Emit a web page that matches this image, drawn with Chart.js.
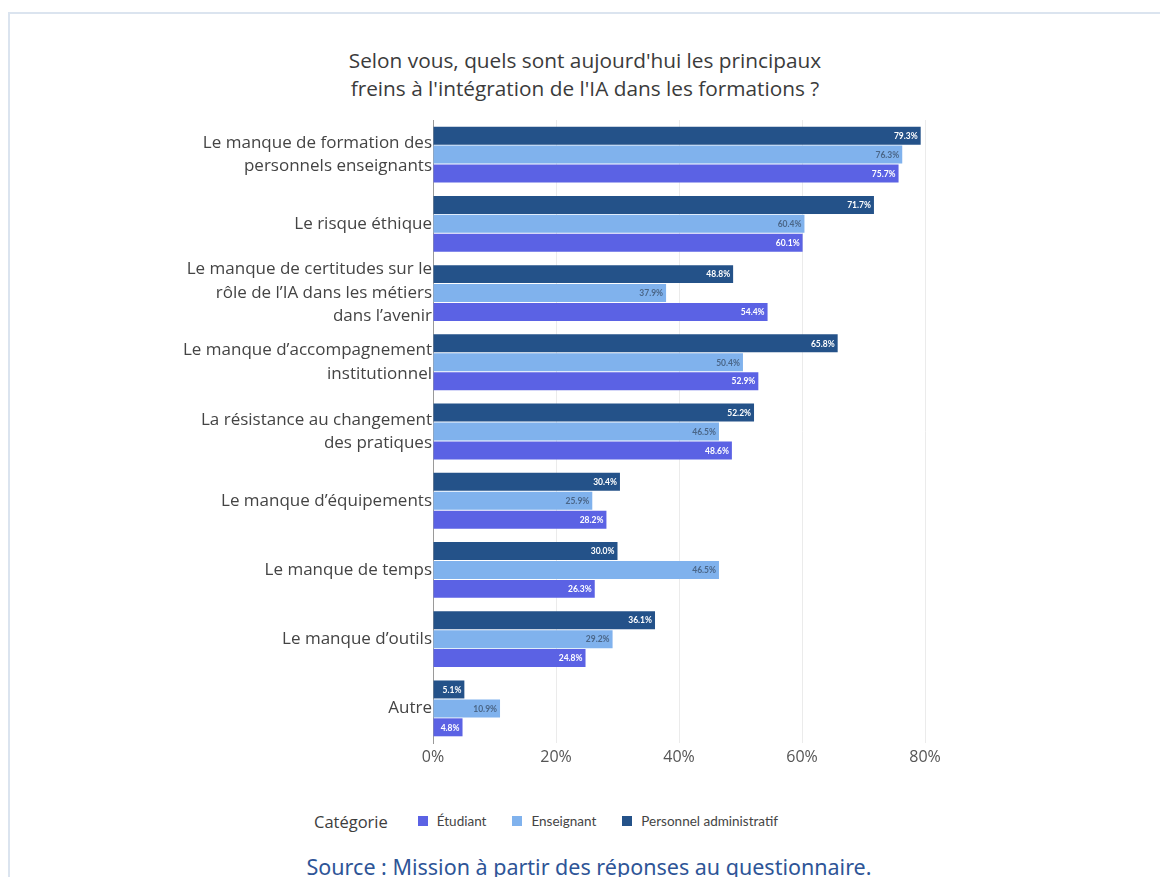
<!DOCTYPE html>
<html lang="fr">
<head>
<meta charset="utf-8">
<title>Freins à l'intégration de l'IA</title>
<script src="https://cdn.jsdelivr.net/npm/chart.js@4.4.1/dist/chart.umd.min.js"></script>
<style>
  html, body { margin: 0; padding: 0; background: #fff; }
  body { width: 1160px; height: 877px; position: relative; overflow: hidden; font-family: "Open Sans", sans-serif; }
  .frame { position: absolute; left: 8px; top: 12px; width: 1300px; height: 1000px;
           border-left: 2px solid #dbe4ef; border-top: 2px solid #dbe4ef; }
  .heading { position: absolute; left: 0; width: 1170px; top: 46px; text-align: center;
             font-size: 20.8px; line-height: 28px; color: #3b3b3b; }
  #wrap { position: absolute; left: 0; top: 0; width: 1160px; height: 770px; }
  .legend { position: absolute; left: 314px; top: 810px; height: 22px; display: flex; align-items: center;
            color: #444; font-family: Lato, sans-serif; font-size: 13.5px; white-space: nowrap; }
  .legend .title { font-family: "Open Sans", sans-serif; font-size: 16.5px; margin-right: 30px; color: #3d3d3d; }
  .legend .sw { width: 10px; height: 10px; margin-right: 9px; display: inline-block; }
  .legend .item { display: flex; align-items: center; margin-right: 26px; }
  .source { position: absolute; left: 0; width: 1178px; top: 852px; text-align: center;
            font-family: "Noto Sans", sans-serif; font-size: 21.5px; color: #2e5597; }
</style>
</head>
<body>
<div class="frame"></div>
<div class="heading">Selon vous, quels sont aujourd'hui les principaux<br>freins à l'intégration de l'IA dans les formations ?</div>
<div id="wrap"><canvas id="chart"></canvas></div>
<div class="legend" id="legend"></div>
<div class="source">Source : Mission à partir des réponses au questionnaire.</div>

<script>
const categories = [
  ["Le manque de formation des", "personnels enseignants"],
  "Le risque éthique",
  ["Le manque de certitudes sur le", "rôle de l’IA dans les métiers", "dans l’avenir"],
  ["Le manque d’accompagnement", "institutionnel"],
  ["La résistance au changement", "des pratiques"],
  "Le manque d’équipements",
  "Le manque de temps",
  "Le manque d’outils",
  "Autre"
];

const etudiant   = [75.7, 60.1, 54.4, 52.9, 48.6, 28.2, 26.3, 24.8, 4.8];
const enseignant = [76.3, 60.4, 37.9, 50.4, 46.5, 25.9, 46.5, 29.2, 10.9];
const personnel  = [79.3, 71.7, 48.8, 65.8, 52.2, 30.4, 30.0, 36.1, 5.1];

const xTicks = [0, 20, 40, 60, 80];

const colors = { etudiant: "#5b62e4", enseignant: "#80b2ed", personnel: "#245289" };

// value labels written inside the end of each bar
const barValueLabels = {
  id: "barValueLabels",
  afterDatasetsDraw(chart) {
    const ctx = chart.ctx;
    ctx.save();
    ctx.font = "bold 8.5px Lato, sans-serif";
    ctx.textAlign = "right";
    ctx.textBaseline = "middle";
    chart.data.datasets.forEach((ds, di) => {
      ctx.fillStyle = ds.labelColor;
      chart.getDatasetMeta(di).data.forEach((bar, i) => {
        ctx.fillText(ds.data[i].toFixed(1) + "%", bar.x - 3, bar.y + 0.5);
      });
    });
    ctx.restore();
  }
};

// top to bottom in each group: personnel, enseignant, étudiant
const datasets = [
  { label: "Personnel administratif", data: personnel, backgroundColor: colors.personnel, labelColor: "#ffffff" },
  { label: "Enseignant", data: enseignant, backgroundColor: colors.enseignant, labelColor: "#4a6688" },
  { label: "Étudiant", data: etudiant, backgroundColor: colors.etudiant, labelColor: "#ffffff" }
];

new Chart(document.getElementById("chart"), {
  type: "bar",
  data: { labels: categories, datasets: datasets },
  options: {
    indexAxis: "y",
    responsive: true,
    maintainAspectRatio: false,
    animation: false,
    categoryPercentage: 0.82,
    barPercentage: 0.95,
    layout: { padding: { left: 0, right: 235, top: 120, bottom: 0 } },
    plugins: {
      legend: { display: false },
      tooltip: { enabled: false }
    },
    scales: {
      x: {
        min: 0,
        max: 80,
        afterBuildTicks: s => { s.ticks = xTicks.map(v => ({ value: v })); },
        afterFit: s => { s.height = 27; },
        grid: {
          drawTicks: false,
          color: c => (c.tick && c.tick.value === 0) ? "rgba(0,0,0,0)" : "#ebebeb"
        },
        border: { display: false },
        ticks: {
          padding: 5,
          color: "#555",
          font: { family: "Open Sans, sans-serif", size: 16 },
          callback: v => v + "%"
        }
      },
      y: {
        afterFit: s => { s.width = 433; },
        grid: { display: false, drawTicks: false },
        border: { display: true, color: "#9a9a9a", width: 1 },
        ticks: {
          autoSkip: false,
          padding: 1,
          color: "#444",
          font: { family: "Open Sans, sans-serif", size: 17, lineHeight: 23.5 / 17 }
        }
      }
    }
  },
  plugins: [barValueLabels]
});

// legend row in the order Étudiant, Enseignant, Personnel administratif
const legendItems = [
  ["Étudiant", colors.etudiant],
  ["Enseignant", colors.enseignant],
  ["Personnel administratif", colors.personnel]
];
const legend = document.getElementById("legend");
legend.innerHTML = '<span class="title">Catégorie</span>' +
  legendItems.map(([name, col]) =>
    `<span class="item"><span class="sw" style="background:${col}"></span>${name}</span>`).join("");
</script>
</body>
</html>
